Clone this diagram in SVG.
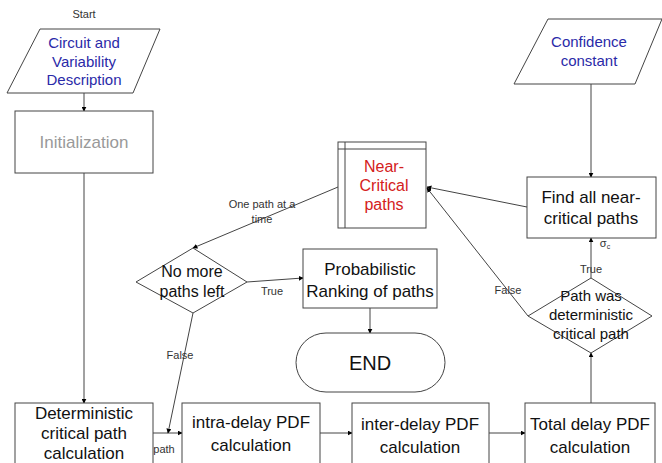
<svg xmlns="http://www.w3.org/2000/svg" width="662" height="463" viewBox="0 0 662 463">
<defs>
<marker id="ah" viewBox="0 0 8 8" refX="7" refY="4" markerWidth="5" markerHeight="5" orient="auto" markerUnits="userSpaceOnUse">
<path d="M0,0 L8,4 L0,8 Z" fill="#000"/>
</marker>
</defs>
<style>
.s{fill:#fff;stroke:#444;stroke-width:1}
.t{font-family:"Liberation Sans",Arial,sans-serif;text-anchor:middle;fill:#111}
.l{font-family:"Liberation Sans",Arial,sans-serif;text-anchor:middle;fill:#333;font-size:11px}
.c{fill:none;stroke:#444;stroke-width:1}
</style>
<rect width="662" height="463" fill="#fff"/>
<g id="connectors">
<line class="c" x1="84" y1="93" x2="84" y2="111" marker-end="url(#ah)"/>
<line class="c" x1="84" y1="173" x2="84" y2="403" marker-end="url(#ah)"/>
<line class="c" x1="153" y1="433" x2="182" y2="433" marker-end="url(#ah)"/>
<line class="c" x1="320" y1="433" x2="352" y2="433" marker-end="url(#ah)"/>
<line class="c" x1="489" y1="433" x2="525" y2="433" marker-end="url(#ah)"/>
<line class="c" x1="591" y1="403" x2="591" y2="353" marker-end="url(#ah)"/>
<line class="c" x1="591" y1="278" x2="591" y2="238" marker-end="url(#ah)"/>
<line class="c" x1="591" y1="84" x2="591" y2="177" marker-end="url(#ah)"/>
<line class="c" x1="527" y1="207" x2="427" y2="187" marker-end="url(#ah)"/>
<line class="c" x1="528" y1="316" x2="427" y2="188" marker-end="url(#ah)"/>
<line class="c" x1="338" y1="187" x2="193" y2="248" marker-end="url(#ah)"/>
<line class="c" x1="247" y1="282" x2="303" y2="278" marker-end="url(#ah)"/>
<line class="c" x1="370" y1="308" x2="370" y2="333" marker-end="url(#ah)"/>
<line class="c" x1="193" y1="313" x2="168" y2="433" marker-end="url(#ah)"/>
<text class="l" x="84" y="18">Start</text>
<text class="l" x="164" y="453">path</text>
<text class="l" x="180" y="359">False</text>
<text class="l" x="272" y="295">True</text>
<text class="l" x="508" y="294">False</text>
<text class="l" x="591" y="273">True</text>
<text class="l" x="605" y="247" font-family="DejaVu Sans, sans-serif">σ<tspan font-size="7" dy="2">c</tspan></text>
<text class="l" x="262" y="208">One path at a</text>
<text class="l" x="262" y="223">time</text>
</g>
<g id="circuit">
<polygon class="s" points="40,29 160,29 133,93 7,93"/>
<text class="t" font-size="15" style="fill:#2a2aa8" x="84" y="48">Circuit and</text>
<text class="t" font-size="15" style="fill:#2a2aa8" x="84" y="67">Variability</text>
<text class="t" font-size="15" style="fill:#2a2aa8" x="84" y="85">Description</text>
</g>
<g id="init">
<rect class="s" x="15" y="111" width="138" height="62"/>
<text class="t" font-size="17" style="fill:#999" x="84" y="148">Initialization</text>
</g>
<g id="deterministic">
<rect class="s" x="15" y="403" width="138" height="70"/>
<text class="t" font-size="17" x="84" y="419">Deterministic</text>
<text class="t" font-size="17" x="84" y="439">critical path</text>
<text class="t" font-size="17" x="84" y="459">calculation</text>
</g>
<g id="intra">
<rect class="s" x="182" y="403" width="138" height="70"/>
<text class="t" font-size="17" x="251" y="428">intra-delay PDF</text>
<text class="t" font-size="17" x="251" y="451">calculation</text>
</g>
<g id="inter">
<rect class="s" x="352" y="403" width="137" height="70"/>
<text class="t" font-size="17" x="420" y="430">inter-delay PDF</text>
<text class="t" font-size="17" x="420" y="453">calculation</text>
</g>
<g id="total">
<rect class="s" x="525" y="403" width="130" height="70"/>
<text class="t" font-size="17" x="590" y="430">Total delay PDF</text>
<text class="t" font-size="17" x="590" y="453">calculation</text>
</g>
<g id="pathwas">
<polygon class="s" points="591,278 652,316 591,353 528,316"/>
<text class="t" font-size="15" x="591" y="301">Path was</text>
<text class="t" font-size="15" x="591" y="320">deterministic</text>
<text class="t" font-size="15" x="591" y="339">critical path</text>
</g>
<g id="findall">
<rect class="s" x="527" y="177" width="129" height="61"/>
<text class="t" font-size="17" x="591" y="203">Find all near-</text>
<text class="t" font-size="17" x="591" y="224">critical paths</text>
</g>
<g id="confidence">
<polygon class="s" points="548,19 662,19 635,84 514,84"/>
<text class="t" font-size="15" style="fill:#2a2aa8" x="589" y="47">Confidence</text>
<text class="t" font-size="15" style="fill:#2a2aa8" x="589" y="66">constant</text>
</g>
<g id="nearcritical">
<rect class="s" x="338" y="142" width="88" height="86"/>
<line class="c" x1="345" y1="142" x2="345" y2="228"/>
<line class="c" x1="338" y1="149" x2="426" y2="149"/>
<text class="t" font-size="16" style="fill:#d42020" x="384" y="172">Near-</text>
<text class="t" font-size="16" style="fill:#d42020" x="384" y="191">Critical</text>
<text class="t" font-size="16" style="fill:#d42020" x="384" y="210">paths</text>
</g>
<g id="nomore">
<polygon class="s" points="193,248 247,282 193,313 136,282"/>
<text class="t" font-size="16" x="192" y="277">No more</text>
<text class="t" font-size="16" x="192" y="297">paths left</text>
</g>
<g id="probabilistic">
<rect class="s" x="303" y="249" width="134" height="59"/>
<text class="t" font-size="17" x="370" y="275">Probabilistic</text>
<text class="t" font-size="17" x="370" y="297">Ranking of paths</text>
</g>
<g id="end">
<rect class="s" x="296" y="333" width="149" height="59" rx="30" ry="30"/>
<text class="t" font-size="20" x="370" y="370">END</text>
</g>
</svg>
